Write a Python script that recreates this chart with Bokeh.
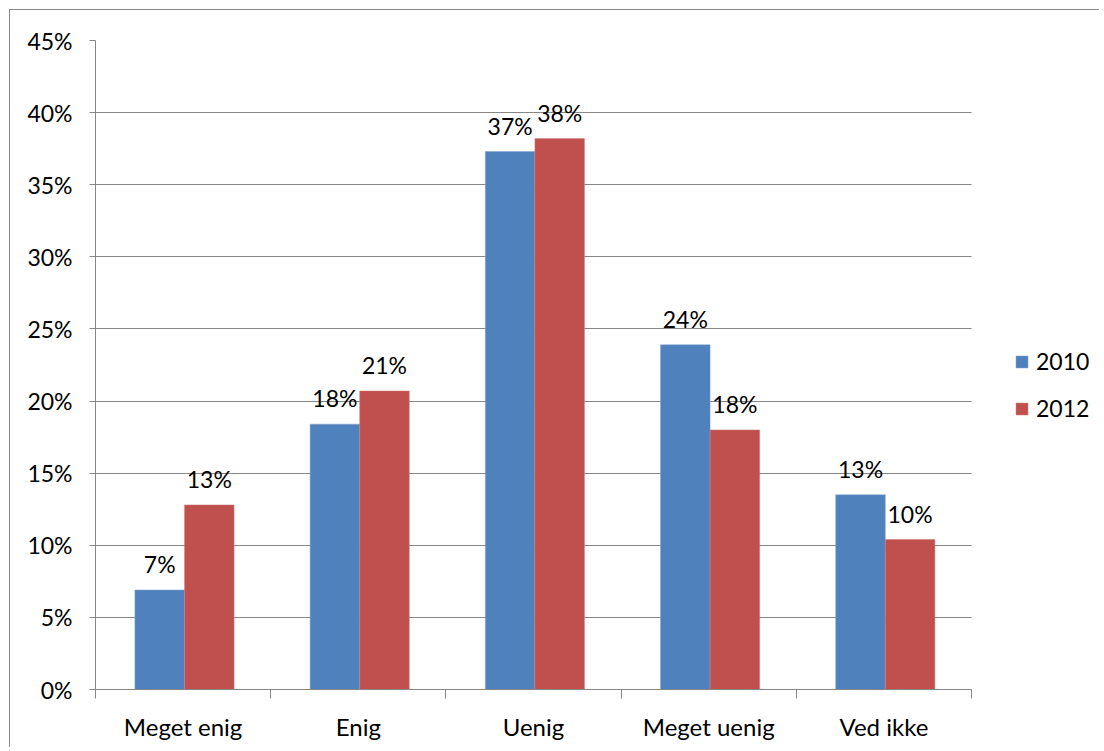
from bokeh.plotting import figure
from bokeh.models import (ColumnDataSource, FixedTicker, NumeralTickFormatter, Range1d,
                          LabelSet, Legend, LegendItem)
from bokeh.core.properties import value
from bokeh.transform import dodge
from bokeh.embed import file_html
from bokeh.resources import INLINE

categories = ["Meget enig", "Enig", "Uenig", "Meget uenig", "Ved ikke"]
v2010 = [0.069, 0.184, 0.373, 0.239, 0.135]
v2012 = [0.128, 0.207, 0.382, 0.180, 0.104]
labels2010 = ["7%", "18%", "37%", "24%", "13%"]
labels2012 = ["13%", "21%", "38%", "18%", "10%"]
y_ticks = [0, 0.05, 0.10, 0.15, 0.20, 0.25, 0.30, 0.35, 0.40, 0.45]

FONT = "Lato"
FS = "23px"
BLUE = "#4F81BD"
RED = "#C0504D"
GRAY = "#878787"

W, H = 1090, 738
LEFT, TOP, BOTTOM = 85, 30, 59
PLOT_W = 876  # pixel width of the category area
n = len(categories)
frame_w = W - LEFT
x_end = n * frame_w / PLOT_W

xc = [i + 0.5 for i in range(n)]
src = ColumnDataSource(dict(x=xc, v2010=v2010, v2012=v2012, l2010=labels2010, l2012=labels2012))

p = figure(width=W, height=H, output_backend="svg", toolbar_location=None,
           x_range=Range1d(0, x_end), y_range=Range1d(0, 0.45),
           min_border_left=LEFT, min_border_right=0, min_border_top=TOP, min_border_bottom=BOTTOM)
p.styles = {"margin-left": "9px", "margin-top": "9px",
            "border-left": "1.5px solid #8a8a8a", "border-top": "1.5px solid #8a8a8a"}
p.outline_line_color = None
p.background_fill_color = "white"
p.border_fill_color = "white"

bw = 0.283
off = 0.008
r1 = p.vbar(x=dodge("x", -bw / 2 + off, range=p.x_range), top="v2010", width=bw, source=src,
            fill_color=BLUE, line_color="#7FA3D0", line_width=0.5)
r2 = p.vbar(x=dodge("x", bw / 2 + off, range=p.x_range), top="v2012", width=bw, source=src,
            fill_color=RED, line_color="#D07E7C", line_width=0.5)

lab1 = LabelSet(x=dodge("x", -bw / 2 + off, range=p.x_range), y="v2010", text="l2010", source=src,
                text_align="center", text_baseline="middle", y_offset=26,
                text_font=value(FONT), text_font_size=FS, text_color="black")
lab2 = LabelSet(x=dodge("x", bw / 2 + off, range=p.x_range), y="v2012", text="l2012", source=src,
                text_align="center", text_baseline="middle", y_offset=26,
                text_font=value(FONT), text_font_size=FS, text_color="black")
p.add_layout(lab1)
p.add_layout(lab2)

# x axis
p.xaxis.bounds = (0, n)
p.xaxis.ticker = FixedTicker(ticks=xc, minor_ticks=list(range(n + 1)))
p.xaxis.major_label_overrides = {x: c for x, c in zip(xc, categories)}
p.xaxis.major_tick_line_color = None
p.xaxis.minor_tick_line_color = GRAY
p.xaxis.minor_tick_out = 9
p.xaxis.minor_tick_in = 0
p.xaxis.axis_line_color = GRAY
p.xaxis.major_label_text_font = FONT
p.xaxis.major_label_text_font_size = "24px"
p.xaxis.major_label_text_color = "black"
p.xaxis.major_label_standoff = 13
p.xgrid.grid_line_color = None

# y axis
p.yaxis.ticker = FixedTicker(ticks=y_ticks)
p.yaxis.formatter = NumeralTickFormatter(format="0%")
p.yaxis.major_tick_out = 6
p.yaxis.major_tick_in = 0
p.yaxis.major_tick_line_color = GRAY
p.yaxis.minor_tick_line_color = None
p.yaxis.axis_line_color = GRAY
p.yaxis.major_label_text_font = FONT
p.yaxis.major_label_text_font_size = FS
p.yaxis.major_label_text_color = "black"
p.yaxis.major_label_standoff = 17
p.ygrid.grid_line_color = GRAY
p.ygrid.grid_line_width = 1
p.ygrid.cross_bounds = (0, n)

legend = Legend(items=[LegendItem(label="2010", renderers=[r1]),
                       LegendItem(label="2012", renderers=[r2])],
                location=(919, 267), orientation="vertical",
                glyph_width=15, glyph_height=15, label_height=24, spacing=19,
                label_text_font=FONT, label_text_font_size=FS, label_text_color="black",
                label_standoff=7, padding=0, margin=0,
                border_line_color=None, background_fill_alpha=0)
p.add_layout(legend, "center")

open("out.html", "w").write(file_html(p, INLINE))
